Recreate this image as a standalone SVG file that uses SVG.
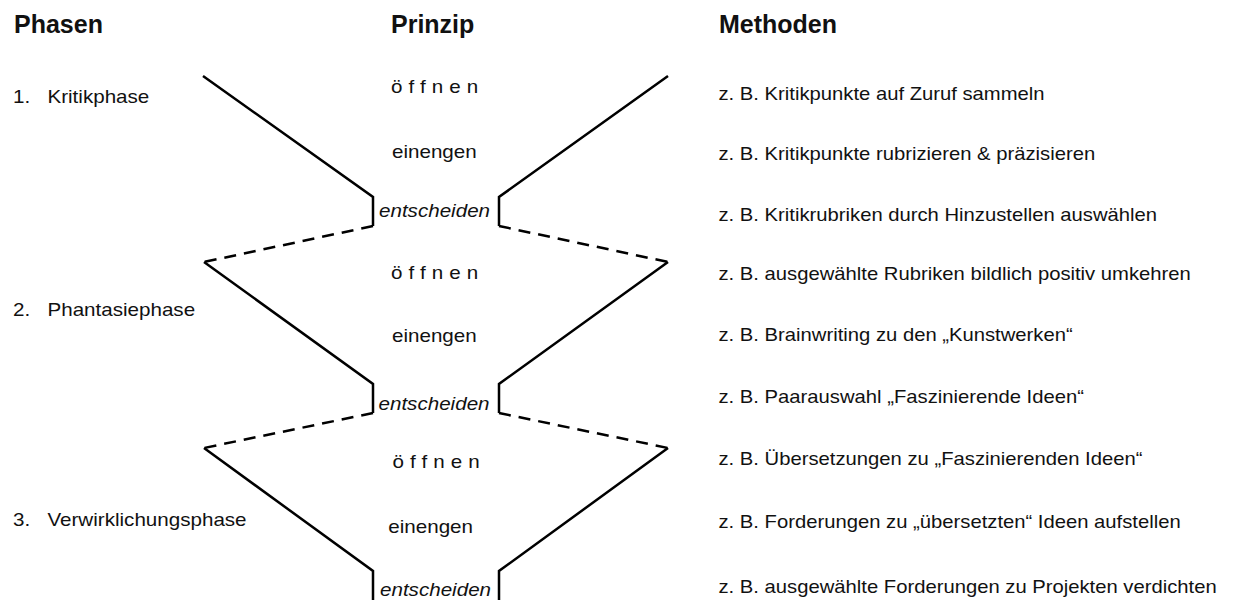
<svg xmlns="http://www.w3.org/2000/svg" width="1247" height="600" viewBox="0 0 1247 600">
  <style>
    text { font-family: "Liberation Sans", Arial, sans-serif; fill: #111; }
    .head { font-size: 25px; font-weight: bold; }
    .body { font-size: 18px; }
    .open { letter-spacing: 5.3px; }
    .decide { font-style: italic; }
    .solid { fill: none; stroke: #000; stroke-width: 2.5; stroke-linejoin: miter; }
    .dash { fill: none; stroke: #000; stroke-width: 2.5; stroke-dasharray: 12 8; }
  </style>

  <!-- column headings -->
  <g id="headings">
    <text class="head" x="14" y="33">Phasen</text>
    <text class="head" x="391" y="33">Prinzip</text>
    <text class="head" x="719" y="33">Methoden</text>
  </g>

  <!-- funnel outline: solid for each phase, dashed transitions -->
  <g id="connectors">
    <!-- phase 1 -->
    <polyline class="solid" points="203,76 373,197 373,226"/>
    <polyline class="solid" points="668,76 499,197 499,226"/>
    <line class="dash" x1="373" y1="226" x2="204" y2="262"/>
    <line class="dash" x1="499" y1="226" x2="668" y2="262"/>
    <!-- phase 2 -->
    <polyline class="solid" points="204,262 373,384 373,413"/>
    <polyline class="solid" points="668,262 499,384 499,413"/>
    <line class="dash" x1="373" y1="413" x2="204" y2="448"/>
    <line class="dash" x1="499" y1="413" x2="668" y2="448"/>
    <!-- phase 3 -->
    <polyline class="solid" points="204,448 373,571 373,610"/>
    <polyline class="solid" points="668,448 499,571 499,610"/>
  </g>

  <!-- phases -->
  <g id="phase-1">
    <text class="body" transform="translate(13,102.5) scale(1.145,1)"><tspan x="0">1.</tspan><tspan x="30.1">Kritikphase</tspan></text>
  </g>
  <g id="phase-2">
    <text class="body" transform="translate(13,316) scale(1.145,1)"><tspan x="0">2.</tspan><tspan x="30.1">Phantasiephase</tspan></text>
  </g>
  <g id="phase-3">
    <text class="body" transform="translate(13,525.5) scale(1.145,1)"><tspan x="0">3.</tspan><tspan x="30.1">Verwirklichungsphase</tspan></text>
  </g>

  <!-- principles -->
  <g id="principle-1">
    <text class="body open" transform="translate(391,93) scale(1.145,1)">öffnen</text>
    <text class="body" transform="translate(392,158) scale(1.145,1)">einengen</text>
    <text class="body decide" transform="translate(379,217) scale(1.145,1)">entscheiden</text>
  </g>
  <g id="principle-2">
    <text class="body open" transform="translate(391,279) scale(1.145,1)">öffnen</text>
    <text class="body" transform="translate(392,342) scale(1.145,1)">einengen</text>
    <text class="body decide" transform="translate(378.5,410) scale(1.145,1)">entscheiden</text>
  </g>
  <g id="principle-3">
    <text class="body open" transform="translate(392.5,468) scale(1.145,1)">öffnen</text>
    <text class="body" transform="translate(388.3,533) scale(1.145,1)">einengen</text>
    <text class="body decide" transform="translate(380,596) scale(1.145,1)">entscheiden</text>
  </g>

  <!-- methods -->
  <g id="methods-1">
    <text class="body" transform="translate(718.5,100) scale(1.125,1)">z. B. Kritikpunkte auf Zuruf sammeln</text>
    <text class="body" transform="translate(718.5,160) scale(1.125,1)">z. B. Kritikpunkte rubrizieren &amp; präzisieren</text>
    <text class="body" transform="translate(718.5,220.5) scale(1.125,1)">z. B. Kritikrubriken durch Hinzustellen auswählen</text>
  </g>
  <g id="methods-2">
    <text class="body" transform="translate(718.5,280) scale(1.125,1)">z. B. ausgewählte Rubriken bildlich positiv umkehren</text>
    <text class="body" transform="translate(718.5,341) scale(1.125,1)">z. B. Brainwriting zu den „Kunstwerken“</text>
    <text class="body" transform="translate(718.5,403) scale(1.125,1)">z. B. Paarauswahl „Faszinierende Ideen“</text>
  </g>
  <g id="methods-3">
    <text class="body" transform="translate(718.5,465) scale(1.125,1)">z. B. Übersetzungen zu „Faszinierenden Ideen“</text>
    <text class="body" transform="translate(718.5,528) scale(1.125,1)">z. B. Forderungen zu „übersetzten“ Ideen aufstellen</text>
    <text class="body" transform="translate(718.5,592.5) scale(1.125,1)">z. B. ausgewählte Forderungen zu Projekten verdichten</text>
  </g>
</svg>
